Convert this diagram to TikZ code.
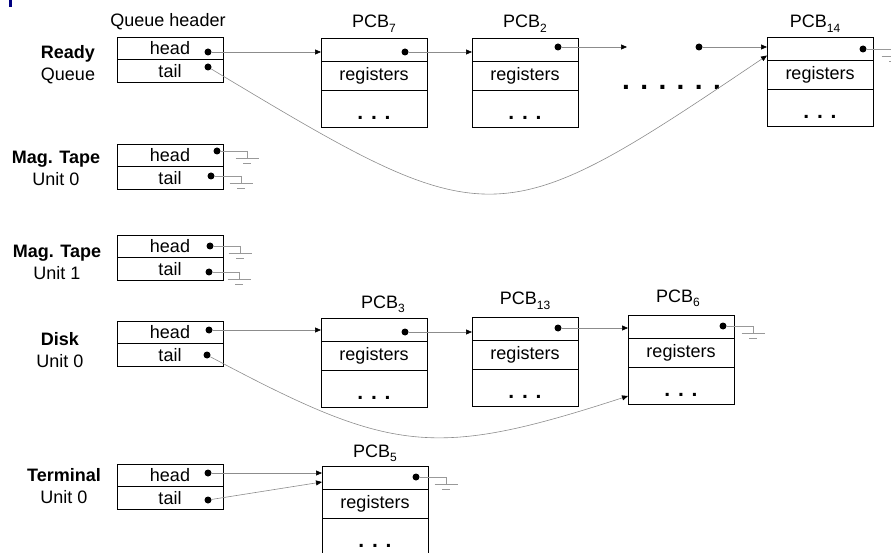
\documentclass[tikz,border=0pt]{standalone}
\usepackage{fontspec}
\setmainfont{Liberation Sans}
\usetikzlibrary{positioning,arrows.meta}
\definecolor{navy}{RGB}{0,0,128}

\newcommand{\pcbno}[1]{\raisebox{-4.5pt}{\fontsize{12}{12}\selectfont#1}}

\tikzset{
  hcell/.style={draw, line width=0.8pt, minimum width=106pt, minimum height=22.5pt, inner sep=0pt, outer sep=0pt},
  pcbtop/.style={draw, fill=white, line width=0.8pt, minimum width=106pt, minimum height=23pt, inner sep=0pt, outer sep=0pt},
  pcbreg/.style={pcbtop, minimum height=29pt},
  pcbetc/.style={pcbtop, minimum height=37pt, text height=22pt, text depth=0pt, font=\fontsize{21}{22}\selectfont\bfseries},
  ptr/.style={circle, fill=black, inner sep=0pt, minimum size=7pt},
  link/.style={draw=black!45, line width=0.6pt, -{Triangle[length=6pt,width=5pt,black]}},
  gnd/.style={draw=black!40, line width=0.6pt},
  ground/.pic={\draw[gnd] (0,0) -- (0,7) (-11.5,7) -- (11.5,7) (-4,12) -- (4,12);}
}

\begin{document}
\begin{tikzpicture}[x=1pt, y=-1pt, font=\fontsize{18}{22}\selectfont]
\useasboundingbox (0,0) rectangle (891,553);
\clip (0,0) rectangle (891,553);
\fill[navy] (9,0) rectangle (11.5,7);

% device queue headers
\node[anchor=base] (qh-title) at (168,27) {Queue header};

\node[hcell, anchor=north west] (rq-head) at (117,37) {head};
\node[hcell, below=0pt of rq-head] (rq-tail) {tail};
\node[align=center] (rq-name) at (68,65) {\textbf{Ready}\\Queue};
\node[ptr] (rq-hdot) at (208,52) {};
\node[ptr] (rq-tdot) at (208,67) {};

\node[hcell, anchor=north west] (mt0-head) at (117,144) {head};
\node[hcell, below=0pt of mt0-head] (mt0-tail) {tail};
\node[align=center] (mt0-name) at (56,168) {\textbf{Mag. Tape}\\Unit 0};
\node[ptr] (mt0-hdot) at (217,151) {};
\node[ptr] (mt0-tdot) at (211,176) {};

\node[hcell, anchor=north west] (mt1-head) at (117,235) {head};
\node[hcell, below=0pt of mt1-head] (mt1-tail) {tail};
\node[align=center] (mt1-name) at (57,262) {\textbf{Mag. Tape}\\Unit 1};
\node[ptr] (mt1-hdot) at (210,246) {};
\node[ptr] (mt1-tdot) at (209,272) {};

\node[hcell, anchor=north west] (dk-head) at (117,321) {head};
\node[hcell, below=0pt of dk-head] (dk-tail) {tail};
\node[align=center] (dk-name) at (60,350) {\textbf{Disk}\\Unit 0};
\node[ptr] (dk-hdot) at (209,330) {};
\node[ptr] (dk-tdot) at (207,355) {};

\node[hcell, anchor=north west] (tm-head) at (117,464) {head};
\node[hcell, below=0pt of tm-head] (tm-tail) {tail};
\node[align=center] (tm-name) at (64,486) {\textbf{Terminal}\\Unit 0};
\node[ptr] (tm-hdot) at (208,473) {};
\node[ptr] (tm-tdot) at (208,500) {};

% process control blocks
\node[pcbtop, anchor=north west] (p7-link) at (321,38) {};
\node[pcbreg, below=0pt of p7-link] (p7-reg) {registers};
\node[pcbetc, below=0pt of p7-reg] (p7-etc) {. . .};
\node[anchor=base] (p7-name) at ([yshift=10pt]p7-link.north) {PCB\pcbno{7}};
\node[ptr] (p7-dot) at (405,52) {};

\node[pcbtop, anchor=north west] (p2-link) at (472,38) {};
\node[pcbreg, below=0pt of p2-link] (p2-reg) {registers};
\node[pcbetc, below=0pt of p2-reg] (p2-etc) {. . .};
\node[anchor=base] (p2-name) at ([yshift=10pt]p2-link.north) {PCB\pcbno{2}};
\node[ptr] (p2-dot) at (558,47) {};

\node[pcbtop, anchor=north west] (p14-link) at (767,37) {};
\node[pcbreg, below=0pt of p14-link] (p14-reg) {registers};
\node[pcbetc, below=0pt of p14-reg] (p14-etc) {. . .};
\node[anchor=base] (p14-name) at ([xshift=-5pt,yshift=9pt]p14-link.north) {PCB\pcbno{14}};
\node[ptr] (p14-dot) at (863,49) {};

\node[anchor=base, inner sep=0pt, font=\fontsize{28}{28}\selectfont\bfseries] (more) at (671.5,89.5) {. . . . . .};
\coordinate (gap-in) at (627,47);
\node[ptr] (gap-out) at (699,47) {};

\node[pcbtop, anchor=north west] (p3-link) at (321,318) {};
\node[pcbreg, below=0pt of p3-link] (p3-reg) {registers};
\node[pcbetc, below=0pt of p3-reg] (p3-etc) {. . .};
\node[anchor=base] (p3-name) at ([xshift=9pt,yshift=10pt]p3-link.north) {PCB\pcbno{3}};
\node[ptr] (p3-dot) at (405,332) {};

\node[pcbtop, anchor=north west] (p13-link) at (472,317) {};
\node[pcbreg, below=0pt of p13-link] (p13-reg) {registers};
\node[pcbetc, below=0pt of p13-reg] (p13-etc) {. . .};
\node[anchor=base] (p13-name) at ([yshift=12pt]p13-link.north) {PCB\pcbno{13}};
\node[ptr] (p13-dot) at (558,328) {};

\node[pcbtop, anchor=north west] (p6-link) at (628,315) {};
\node[pcbreg, below=0pt of p6-link] (p6-reg) {registers};
\node[pcbetc, below=0pt of p6-reg] (p6-etc) {. . .};
\node[anchor=base] (p6-name) at ([xshift=-3pt,yshift=13pt]p6-link.north) {PCB\pcbno{6}};
\node[ptr] (p6-dot) at (723,326) {};

\node[pcbtop, anchor=north west] (p5-link) at (322,466) {};
\node[pcbreg, below=0pt of p5-link] (p5-reg) {registers};
\node[pcbetc, below=0pt of p5-reg] (p5-etc) {. . .};
\node[anchor=base] (p5-name) at ([yshift=9pt]p5-link.north) {PCB\pcbno{5}};
\node[ptr] (p5-dot) at (416,477) {};

% ready queue
\draw[link] (rq-hdot) -- (rq-hdot -| p7-link.west);
\draw[link] (p7-dot) -- (p7-dot -| p2-link.west);
\draw[link] (p2-dot) -- (gap-in);
\draw[link] (gap-out) -- (gap-out -| p14-link.west);
\draw[link] (rq-tdot) to[out=-31, in=-146, looseness=1.5] ([yshift=-7pt]p14-link.west);
\draw[gnd] (p14-dot.east) -- ++(26.5,0) pic {ground};

% empty tape queues
\draw[gnd] (mt0-hdot.east) -- ++(26.5,0) pic {ground};
\draw[gnd] (mt0-tdot.east) -- ++(26.5,0) pic {ground};
\draw[gnd] (mt1-hdot.east) -- ++(26.5,0) pic {ground};
\draw[gnd] (mt1-tdot.east) -- ++(26.5,0) pic {ground};

% disk queue
\draw[link] (dk-hdot) -- (dk-hdot -| p3-link.west);
\draw[link] (p3-dot) -- (p3-dot -| p13-link.west);
\draw[link] (p13-dot) -- (p13-dot -| p6-link.west);
\draw[link] (dk-tdot) to[out=-28, in=-162, looseness=1.25] ([yshift=-10.5pt]p6-etc.west);
\draw[gnd] (p6-dot.east) -- ++(26.5,0) pic {ground};

% terminal queue
\draw[link] (tm-hdot) -- (tm-hdot -| p5-link.west);
\draw[link] (tm-tdot) -- ([yshift=-4.5pt]p5-link.west);
\draw[gnd] (p5-dot.east) -- ++(26.5,0) pic {ground};
\end{tikzpicture}
\end{document}
